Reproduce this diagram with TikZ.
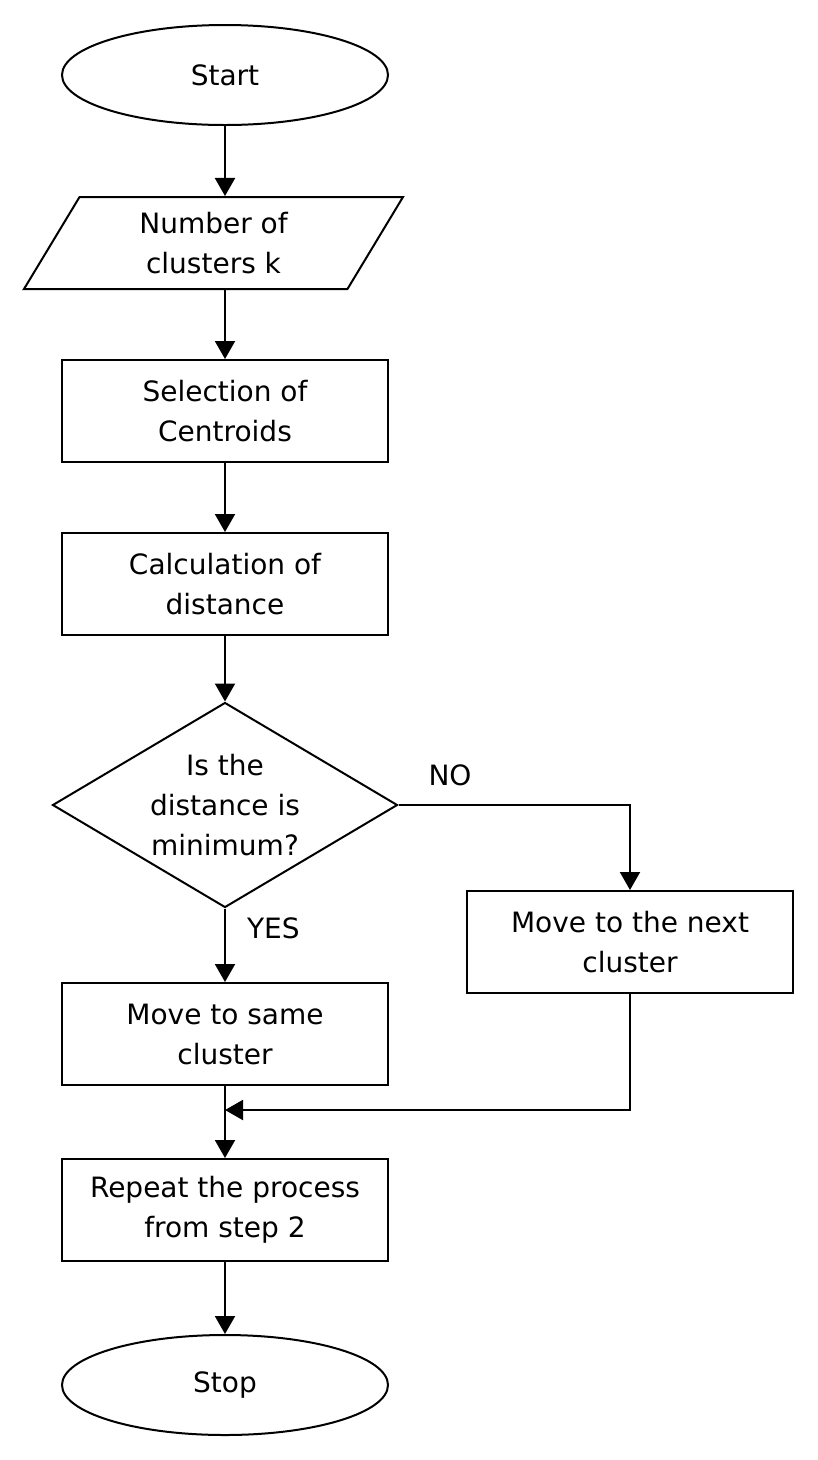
\documentclass[tikz,border=0pt]{standalone}
\usepackage{fontspec}
\setmainfont{DejaVu Sans}
\usetikzlibrary{shapes.geometric,arrows.meta}
\begin{document}
\begin{tikzpicture}[x=1pt, y=-1pt, line width=2pt,
    every node/.style={font=\fontsize{28}{40}\selectfont, align=center, inner sep=0pt},
    terminal/.style={draw, ellipse, minimum width=326pt, minimum height=100pt},
    process/.style={draw, rectangle, minimum width=326pt, minimum height=102pt},
    inputbox/.style={draw, trapezium, trapezium left angle=48, trapezium right angle=132,
        trapezium stretches body, minimum width=379pt, minimum height=92pt},
    decision/.style={draw, diamond, aspect=1.68, minimum width=345pt, minimum height=205pt},
    flow/.style={-{Triangle[width=20pt,length=18pt]}}]
    \useasboundingbox (0,0) rectangle (818,1460);

    % Main column
    \node[terminal] (start) at (225,75) {Start};
    \node[inputbox] (nclust) at (213.5,243) {Number of\\clusters k};
    \node[process] (select) at (225,411) {Selection of\\Centroids};
    \node[process] (calc) at (225,584) {Calculation of\\distance};
    \node[decision] (test) at (225,805) {Is the\\distance is\\minimum?};
    \node[process] (same) at (225,1034) {Move to same\\cluster};
    \node[process] (repeat) at (225,1210) {Repeat the process\\from step 2};
    \node[terminal] (stop) at (225,1385) {Stop};

    % Side branch
    \node[process] (nextc) at (630,942) {Move to the next\\cluster};
    \coordinate (merge) at (225,1110);

    % Arrows down the column
    \draw[flow] (start) -- (start |- nclust.north);
    \draw[flow] (nclust.south -| select) -- (select);
    \draw[flow] (select) -- (calc);
    \draw[flow] (calc) -- (test);
    \draw[flow] (test) -- (same) node[pos=0.27, right=21pt] (yes) {YES};
    \draw[flow] (same) -- (repeat);
    \draw[flow] (repeat) -- (stop);

    % NO branch and return
    \draw[flow] (test.east) -| (nextc.north);
    \node (no) at (450,775) {NO};
    \draw[flow] (nextc.south) |- (merge);
\end{tikzpicture}
\end{document}
